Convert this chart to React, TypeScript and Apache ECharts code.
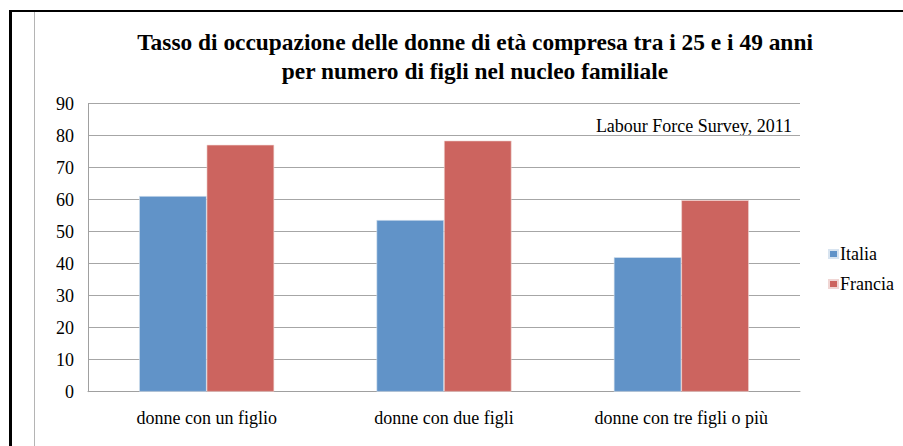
import React, { useEffect, useRef } from "react";
import * as echarts from "echarts";

const categories = ["donne con un figlio", "donne con due figli", "donne con tre figli o più"];
const italia = [61.1, 53.6, 42.0];
const francia = [77.1, 78.4, 59.8];
const titleLines = [
  "Tasso di occupazione delle donne di età compresa tra i 25 e i 49 anni",
  "per numero di figli nel nucleo familiale",
];
const sourceNote = "Labour Force Survey, 2011";

const SERIF = "Liberation Serif";

export default function App() {
  const ref = useRef<HTMLDivElement>(null);
  useEffect(() => {
    if (!ref.current) return;
    const chart = echarts.init(ref.current, undefined, { renderer: "svg" });
    chart.setOption({
      animation: false,
      backgroundColor: "#ffffff",
      textStyle: { fontFamily: SERIF },
      grid: { left: 88, right: 103, top: 103.5, bottom: 54.3, containLabel: false },
      legend: {
        orient: "vertical",
        left: 823,
        top: 240,
        itemWidth: 9,
        itemHeight: 8,
        itemGap: 12,
        icon: "rect",
        textStyle: { fontFamily: SERIF, fontSize: 18, color: "#000", padding: [0, 0, 0, -3] },
        data: ["Italia", "Francia"],
      },
      xAxis: {
        type: "category",
        data: categories,
        axisLine: { lineStyle: { color: "#a0a0a0", width: 1 } },
        axisTick: { show: false },
        axisLabel: { fontFamily: SERIF, fontSize: 18, color: "#000", margin: 17 },
      },
      yAxis: {
        type: "value",
        min: 0,
        max: 90,
        interval: 10,
        axisLine: { show: true, lineStyle: { color: "#a0a0a0", width: 1 } },
        axisTick: { show: false },
        splitLine: { lineStyle: { color: "#a6a6a6", width: 1.2 } },
        axisLabel: { fontFamily: SERIF, fontSize: 18, color: "#000", margin: 14 },
      },
      series: [
        {
          name: "Italia",
          type: "bar",
          data: italia,
          barWidth: 67.5,
          barGap: "0%",
          itemStyle: { color: "#6193c8", borderColor: "#d8e4f0", borderWidth: 0.6 },
        },
        {
          name: "Francia",
          type: "bar",
          data: francia,
          barWidth: 67.5,
          itemStyle: { color: "#cc645f", borderColor: "#f0d6d4", borderWidth: 0.6 },
        },
      ],
      graphic: [
        { type: "rect", left: 9, top: 10, shape: { width: 3, height: 436 }, style: { fill: "#000" } },
        { type: "rect", left: 9, top: 10, shape: { width: 894, height: 2 }, style: { fill: "#000" } },
        { type: "rect", left: 34, top: 12, shape: { width: 1, height: 434 }, style: { fill: "#b4b4b4" } },
        {
          type: "text",
          x: 475,
          y: 42,
          style: {
            text: titleLines[0],
            fontFamily: SERIF,
            fontSize: 23.4,
            fontWeight: "bold",
            fill: "#000",
            align: "center",
            verticalAlign: "middle",
          },
        },
        {
          type: "text",
          x: 475,
          y: 71,
          style: {
            text: titleLines[1],
            fontFamily: SERIF,
            fontSize: 23.4,
            fontWeight: "bold",
            fill: "#000",
            align: "center",
            verticalAlign: "middle",
          },
        },
        {
          type: "text",
          x: 792,
          y: 126,
          style: {
            text: sourceNote,
            fontFamily: SERIF,
            fontSize: 18,
            fill: "#000",
            align: "right",
            verticalAlign: "middle",
          },
        },
      ],
    });
    return () => chart.dispose();
  }, []);
  return (
    <div
      ref={ref}
      style={{ position: "fixed", left: 0, top: 0, width: 903, height: 446 }}
    />
  );
}
